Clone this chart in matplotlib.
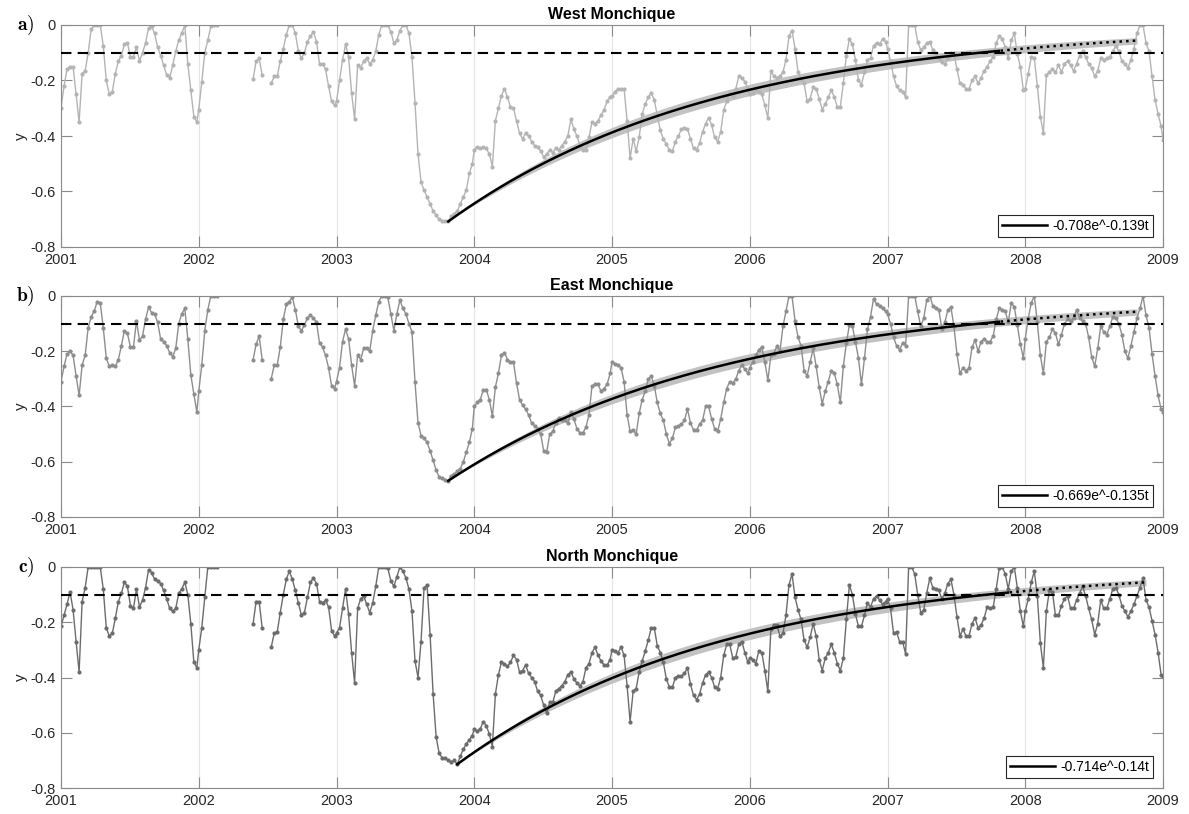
import numpy as np
import matplotlib
matplotlib.use('Agg')
import matplotlib.pyplot as plt

plt.rcParams['font.family'] = ['Liberation Sans', 'DejaVu Sans']
plt.rcParams['mathtext.fontset'] = 'cm'

nan = np.nan
years = list(range(2001, 2009))

# 8-day samples, 46 per year
west_2001 = [-0.30, -0.22, -0.16, -0.15, -0.15, -0.25, -0.35, -0.175, -0.165, -0.10, -0.015, 0, 0, 0, -0.075, -0.20, -0.25, -0.24, -0.175, -0.13, -0.11, -0.07, -0.065, -0.115, -0.115, -0.08, -0.13, -0.10, -0.065, -0.01, -0.005, -0.03, -0.08, -0.11, -0.145, -0.18, -0.19, -0.145, -0.095, -0.055, -0.03, 0, -0.14, -0.235, -0.33, -0.35]
west_2002 = [-0.305, -0.205, -0.10, -0.055, -0.005, 0, 0] + [nan] * 11 + [-0.195, -0.13, -0.12, -0.18, nan, nan, -0.21, -0.185, -0.185, -0.13, -0.085, -0.035, 0, 0, -0.03, -0.095, -0.12, -0.10, -0.06, -0.04, -0.025, -0.06, -0.14, -0.14, -0.16, -0.22, -0.275, -0.29]
west_2003 = [-0.275, -0.20, -0.125, -0.07, -0.115, -0.245, -0.34, -0.145, -0.155, -0.13, -0.12, -0.14, -0.125, -0.095, -0.035, 0, 0, 0, -0.025, -0.065, -0.055, -0.02, 0, 0, -0.03, -0.115, -0.28, -0.465, -0.565, -0.595, -0.62, -0.645, -0.67, -0.685, -0.70, -0.705, -0.705, -0.708, -0.69, -0.68, -0.67, -0.645, -0.62, -0.595, -0.535, -0.50]
west_2004 = [-0.45, -0.44, -0.445, -0.44, -0.445, -0.465, -0.51, -0.345, -0.30, -0.255, -0.23, -0.26, -0.295, -0.30, -0.345, -0.39, -0.41, -0.39, -0.40, -0.42, -0.435, -0.44, -0.455, -0.475, -0.465, -0.45, -0.46, -0.445, -0.45, -0.435, -0.42, -0.40, -0.34, -0.375, -0.40, -0.435, -0.45, -0.45, -0.405, -0.35, -0.355, -0.345, -0.325, -0.305, -0.275, -0.26]
west_2005 = [-0.255, -0.24, -0.23, -0.23, -0.23, -0.345, -0.48, -0.41, -0.455, -0.405, -0.32, -0.285, -0.26, -0.245, -0.27, -0.325, -0.38, -0.41, -0.43, -0.45, -0.455, -0.42, -0.40, -0.375, -0.37, -0.375, -0.41, -0.445, -0.45, -0.425, -0.385, -0.355, -0.335, -0.36, -0.405, -0.42, -0.385, -0.305, -0.275, -0.245, -0.255, -0.23, -0.185, -0.19, -0.205, -0.23]
west_2006 = [-0.25, -0.245, -0.235, -0.24, -0.25, -0.29, -0.335, -0.165, -0.185, -0.19, -0.185, -0.17, -0.125, -0.04, -0.02, -0.085, -0.17, -0.195, -0.21, -0.275, -0.265, -0.225, -0.23, -0.265, -0.305, -0.285, -0.26, -0.235, -0.26, -0.295, -0.295, -0.21, -0.11, -0.05, -0.07, -0.125, -0.20, -0.215, -0.17, -0.125, -0.12, -0.075, -0.065, -0.07, -0.05, -0.06]
west_2007 = [-0.085, -0.13, -0.185, -0.22, -0.235, -0.24, -0.26, 0, 0, 0, -0.06, -0.09, -0.08, -0.065, -0.06, -0.09, -0.10, -0.12, -0.135, -0.14, -0.12, -0.10, -0.10, -0.16, -0.21, -0.215, -0.23, -0.23, -0.20, -0.185, -0.21, -0.19, -0.165, -0.15, -0.13, -0.115, -0.065, -0.04, -0.05, -0.08, -0.12, -0.055, -0.03, -0.105, -0.15, -0.235]
west_2008 = [-0.23, -0.175, -0.115, -0.12, -0.22, -0.33, -0.39, -0.18, -0.17, -0.16, -0.17, -0.145, -0.17, -0.14, -0.13, -0.145, -0.165, -0.14, -0.11, -0.095, -0.115, -0.14, -0.155, -0.185, -0.165, -0.12, -0.125, -0.12, -0.115, -0.095, -0.075, -0.095, -0.13, -0.14, -0.155, -0.125, -0.085, -0.03, 0, 0, -0.065, -0.095, -0.185, -0.27, -0.32, -0.365]
west_2009 = [-0.415]

east_2001 = [-0.31, -0.255, -0.21, -0.20, -0.215, -0.29, -0.36, -0.25, -0.215, -0.115, -0.075, -0.055, -0.02, -0.025, -0.115, -0.225, -0.255, -0.25, -0.255, -0.23, -0.18, -0.125, -0.135, -0.185, -0.185, -0.09, -0.16, -0.145, -0.085, -0.04, -0.06, -0.065, -0.095, -0.155, -0.165, -0.18, -0.205, -0.22, -0.19, -0.10, -0.065, -0.045, -0.155, -0.285, -0.355, -0.42]
east_2002 = [-0.345, -0.25, -0.125, -0.05, 0, 0, 0] + [nan] * 11 + [-0.23, -0.175, -0.145, -0.23, nan, nan, -0.30, -0.25, -0.25, -0.185, -0.085, -0.03, -0.02, -0.005, -0.05, -0.11, -0.125, -0.105, -0.08, -0.07, -0.08, -0.095, -0.17, -0.185, -0.215, -0.26, -0.325, -0.335]
east_2003 = [-0.31, -0.26, -0.165, -0.12, -0.155, -0.25, -0.325, -0.215, -0.23, -0.19, -0.19, -0.20, -0.125, -0.07, -0.02, 0, 0, -0.005, -0.065, -0.125, -0.065, -0.015, -0.045, -0.065, -0.10, -0.13, -0.31, -0.46, -0.505, -0.515, -0.53, -0.56, -0.595, -0.63, -0.655, -0.66, -0.665, -0.669, -0.65, -0.645, -0.635, -0.625, -0.60, -0.565, -0.53, -0.48]
east_2004 = [-0.40, -0.385, -0.375, -0.34, -0.34, -0.375, -0.435, -0.33, -0.28, -0.215, -0.205, -0.23, -0.24, -0.24, -0.315, -0.375, -0.395, -0.41, -0.43, -0.46, -0.47, -0.48, -0.50, -0.56, -0.565, -0.50, -0.49, -0.46, -0.44, -0.45, -0.45, -0.46, -0.42, -0.445, -0.48, -0.495, -0.495, -0.475, -0.43, -0.325, -0.32, -0.32, -0.345, -0.335, -0.32, -0.28]
east_2005 = [-0.24, -0.245, -0.25, -0.26, -0.31, -0.43, -0.49, -0.485, -0.50, -0.425, -0.375, -0.345, -0.30, -0.29, -0.325, -0.385, -0.425, -0.45, -0.50, -0.535, -0.515, -0.475, -0.47, -0.465, -0.45, -0.41, -0.46, -0.485, -0.485, -0.465, -0.45, -0.40, -0.40, -0.445, -0.48, -0.49, -0.445, -0.385, -0.335, -0.31, -0.315, -0.30, -0.27, -0.25, -0.265, -0.28]
east_2006 = [-0.26, -0.24, -0.215, -0.195, -0.185, -0.24, -0.305, -0.215, -0.21, -0.18, -0.20, -0.11, -0.055, 0, 0, -0.09, -0.15, -0.18, -0.27, -0.29, -0.24, -0.19, -0.255, -0.33, -0.39, -0.345, -0.31, -0.27, -0.28, -0.32, -0.385, -0.255, -0.17, -0.105, -0.11, -0.165, -0.225, -0.32, -0.225, -0.12, -0.075, -0.01, -0.03, -0.035, -0.045, -0.055]
east_2007 = [-0.065, -0.10, -0.15, -0.18, -0.195, -0.17, -0.18, 0, 0, 0, -0.055, -0.11, -0.08, -0.015, 0, -0.035, -0.045, -0.05, -0.12, -0.095, -0.05, -0.04, -0.11, -0.21, -0.28, -0.26, -0.27, -0.26, -0.185, -0.16, -0.20, -0.165, -0.155, -0.165, -0.165, -0.145, -0.085, -0.045, -0.05, -0.055, -0.095, -0.025, -0.04, -0.105, -0.175, -0.225]
east_2008 = [-0.155, -0.08, -0.025, 0, -0.095, -0.215, -0.28, -0.165, -0.15, -0.12, -0.135, -0.175, -0.14, -0.10, -0.085, -0.09, -0.08, -0.05, -0.08, -0.09, -0.10, -0.15, -0.22, -0.255, -0.19, -0.11, -0.13, -0.14, -0.11, -0.075, -0.08, -0.10, -0.14, -0.20, -0.225, -0.18, -0.13, -0.08, -0.045, 0, -0.07, -0.115, -0.21, -0.29, -0.36, -0.41]
east_2009 = [-0.42]

north_2001 = [-0.215, -0.175, -0.135, -0.09, -0.155, -0.27, -0.38, -0.125, -0.075, 0, 0, 0, 0, 0, -0.08, -0.22, -0.25, -0.24, -0.185, -0.125, -0.095, -0.055, -0.07, -0.14, -0.15, -0.08, -0.145, -0.12, -0.075, -0.01, -0.02, -0.045, -0.05, -0.06, -0.085, -0.115, -0.15, -0.16, -0.15, -0.095, -0.08, -0.055, -0.10, -0.205, -0.345, -0.365]
north_2002 = [-0.30, -0.22, -0.11, 0, 0, 0, 0] + [nan] * 11 + [-0.205, -0.125, -0.125, -0.22, nan, nan, -0.29, -0.24, -0.235, -0.165, -0.10, -0.045, -0.015, -0.045, -0.085, -0.13, -0.175, -0.165, -0.11, -0.055, -0.04, -0.06, -0.125, -0.13, -0.12, -0.145, -0.23, -0.25]
north_2003 = [-0.24, -0.22, -0.15, -0.08, -0.17, -0.31, -0.42, -0.15, -0.115, -0.105, -0.135, -0.165, -0.13, -0.07, 0, 0, 0, -0.005, -0.05, -0.07, -0.035, 0, -0.015, -0.04, -0.08, -0.16, -0.34, -0.40, -0.27, -0.075, -0.065, -0.245, -0.46, -0.615, -0.675, -0.69, -0.69, -0.70, -0.705, -0.70, -0.714, -0.685, -0.66, -0.64, -0.625, -0.61]
north_2004 = [-0.585, -0.595, -0.585, -0.56, -0.575, -0.605, -0.65, -0.46, -0.39, -0.345, -0.35, -0.36, -0.345, -0.32, -0.335, -0.38, -0.375, -0.355, -0.385, -0.40, -0.415, -0.45, -0.465, -0.50, -0.53, -0.49, -0.49, -0.45, -0.44, -0.43, -0.415, -0.39, -0.38, -0.405, -0.42, -0.43, -0.415, -0.365, -0.35, -0.31, -0.29, -0.32, -0.34, -0.355, -0.355, -0.335]
north_2005 = [-0.30, -0.305, -0.31, -0.29, -0.32, -0.43, -0.56, -0.45, -0.44, -0.38, -0.34, -0.305, -0.265, -0.22, -0.22, -0.285, -0.31, -0.345, -0.405, -0.435, -0.435, -0.40, -0.395, -0.395, -0.385, -0.365, -0.425, -0.465, -0.48, -0.46, -0.42, -0.39, -0.38, -0.40, -0.435, -0.44, -0.40, -0.32, -0.28, -0.28, -0.33, -0.325, -0.28, -0.27, -0.31, -0.345]
north_2006 = [-0.33, -0.335, -0.35, -0.305, -0.31, -0.375, -0.45, -0.225, -0.21, -0.21, -0.25, -0.24, -0.175, -0.065, -0.025, -0.11, -0.155, -0.19, -0.265, -0.29, -0.255, -0.205, -0.25, -0.335, -0.375, -0.33, -0.31, -0.28, -0.31, -0.35, -0.375, -0.33, -0.19, -0.065, -0.10, -0.17, -0.215, -0.215, -0.175, -0.13, -0.145, -0.115, -0.105, -0.12, -0.135, -0.125]
north_2007 = [-0.115, -0.15, -0.24, -0.235, -0.27, -0.27, -0.315, 0, 0, -0.025, -0.10, -0.165, -0.155, -0.095, -0.04, -0.075, -0.08, -0.085, -0.115, -0.095, -0.06, -0.045, -0.10, -0.18, -0.25, -0.225, -0.25, -0.25, -0.205, -0.185, -0.22, -0.21, -0.185, -0.145, -0.15, -0.145, -0.08, -0.005, 0, -0.025, -0.08, -0.015, 0, -0.075, -0.16, -0.215]
north_2008 = [-0.16, -0.115, -0.055, -0.015, -0.105, -0.275, -0.365, -0.16, -0.085, -0.09, -0.175, -0.175, -0.14, -0.115, -0.105, -0.15, -0.15, -0.12, -0.095, -0.07, -0.105, -0.15, -0.19, -0.245, -0.205, -0.12, -0.15, -0.15, -0.115, -0.08, -0.075, -0.10, -0.14, -0.16, -0.18, -0.16, -0.135, -0.105, -0.075, -0.04, -0.12, -0.145, -0.195, -0.245, -0.31, -0.39]
north_2009 = [-0.395]

west = west_2001 + west_2002 + west_2003 + west_2004 + west_2005 + west_2006 + west_2007 + west_2008 + west_2009
east = east_2001 + east_2002 + east_2003 + east_2004 + east_2005 + east_2006 + east_2007 + east_2008 + east_2009
north = north_2001 + north_2002 + north_2003 + north_2004 + north_2005 + north_2006 + north_2007 + north_2008 + north_2009

# exponential fit parameters (t counted in units of 100 days from the minimum)
fit_a = [-0.708, -0.669, -0.714]
fit_b = [0.139, 0.135, 0.14]
fit_db = 0.011
t_scale = 365.0 / 100.0

titles = ['West Monchique', 'East Monchique', 'North Monchique']
panel_tags = ['a)', 'b)', 'c)']
line_colors = ['#b4b4b4', '#8e8e8e', '#6c6c6c']

dates = np.array([y + 8 * i / 365.0 for y in years for i in range(46)] + [2009.0])

fig = plt.figure(figsize=(11.89, 8.14), dpi=100)
axes_rect = [
    [61 / 1189, 1 - 247 / 814, 1102 / 1189, 222 / 814],
    [61 / 1189, 1 - 517 / 814, 1102 / 1189, 221 / 814],
    [61 / 1189, 1 - 788 / 814, 1102 / 1189, 221 / 814],
]

for k, series in enumerate([west, east, north]):
    ax = fig.add_axes(axes_rect[k])
    vals = np.array(series, dtype=float)

    ax.grid(axis='x', color='#e4e4e4', lw=0.8, zorder=0)
    ax.set_axisbelow(True)

    # fit from the date of the minimum
    i0 = np.nanargmin(vals)
    t0 = dates[i0]
    a, b = fit_a[k], fit_b[k]
    tt = np.linspace(t0, t0 + 5, 400)
    tu = (tt - t0) * t_scale
    yfit = a * np.exp(-b * tu)
    lo = a * np.exp(-(b - fit_db) * tu)
    hi = a * np.exp(-(b + fit_db) * tu)
    ax.fill_between(tt, lo, hi, color='#c2c2c2', lw=0, zorder=1)

    ax.plot(dates, vals, '-', color=line_colors[k], lw=1.0, marker='.', ms=4, zorder=2)

    solid = tt <= t0 + 4
    ax.plot(tt[solid], yfit[solid], 'k-', lw=1.8, zorder=4,
            label=f'{a:g}e^-{b:g}t')
    ax.plot(tt[~solid], yfit[~solid], color='k', ls=':', lw=1.8, zorder=4)

    ax.axhline(-0.1, color='k', ls=(0, (5, 3)), lw=1.5, zorder=3)

    ax.set_xlim(2001, 2009)
    ax.set_ylim(-0.8, 0)
    ax.set_xticks(range(2001, 2010))
    ax.set_xticklabels([str(y) for y in range(2001, 2010)])
    ax.set_yticks([-0.8, -0.6, -0.4, -0.2, 0])
    ax.set_yticklabels(['-0.8', '-0.6', '-0.4', '-0.2', '0'])
    ax.tick_params(direction='in', length=8, width=0.8, top=True, right=True,
                   color='#8a8a8a', labelcolor='#262626', labelsize=10.5, pad=4)
    for sp in ax.spines.values():
        sp.set_color('#8a8a8a')
        sp.set_linewidth(0.8)

    ax.set_ylabel('y', fontsize=11, color='#262626')
    ax.yaxis.set_label_coords(-0.03, 0.5)
    ax.set_title(titles[k], fontsize=11.5, fontweight='bold', pad=4)
    ax.text(-0.024, 1.0, r'$\mathbf{' + panel_tags[k] + '}$', transform=ax.transAxes,
            ha='right', va='center', fontsize=14)

    leg = ax.legend(loc='lower right', fontsize=10, fancybox=False, framealpha=1,
                    edgecolor='#262626', borderaxespad=0.7, handlelength=3.2,
                    borderpad=0.3, handletextpad=0.4)
    leg.get_frame().set_linewidth(0.8)

fig.savefig('out.png', dpi=100)
